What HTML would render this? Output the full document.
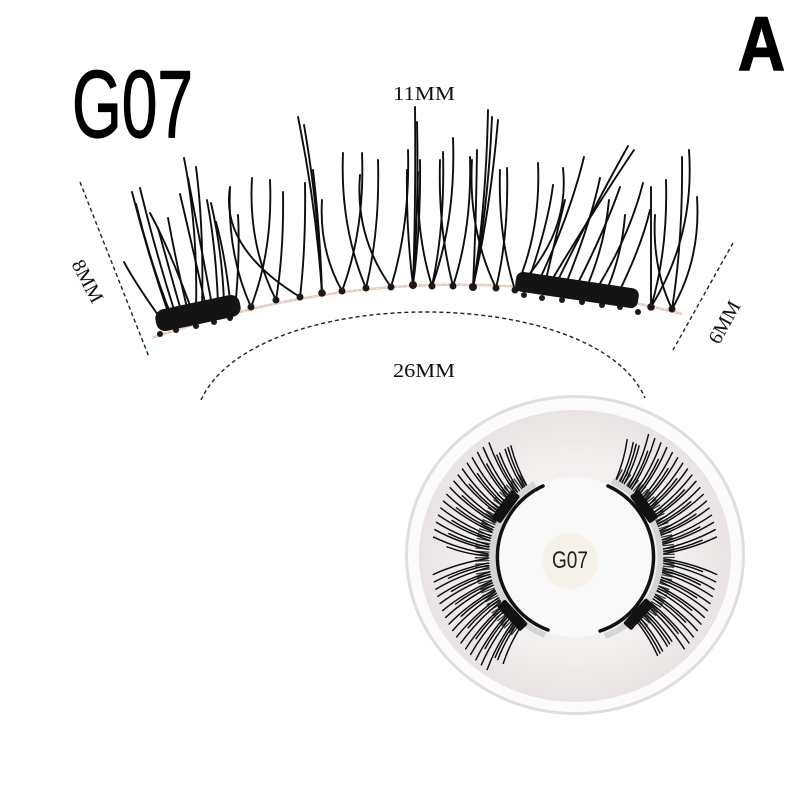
<!DOCTYPE html>
<html>
<head>
<meta charset="utf-8">
<style>
html,body{margin:0;padding:0;background:#fff;}
svg{display:block;}
</style>
</head>
<body>
<svg width="800" height="800" viewBox="0 0 800 800" xmlns="http://www.w3.org/2000/svg">
<defs>
  <radialGradient id="dish" cx="0.5" cy="0.5" r="0.5">
    <stop offset="0" stop-color="#f9f7f7"/>
    <stop offset="0.65" stop-color="#f3efef"/>
    <stop offset="1" stop-color="#e9e3e3"/>
  </radialGradient>
  <path id="la" d="M662,557 Q692,553 717,542"/>
  <path id="lb" d="M662,557 Q692,561 717,572"/>
  <path id="lc" d="M662,557 Q684,555 703,548"/>
  <path id="ld" d="M662,557 Q684,559 703,566"/>
</defs>
<rect width="800" height="800" fill="#fff"/>

<!-- Titles -->
<text x="72" y="137" font-family="Liberation Sans, sans-serif" font-size="96" textLength="121" lengthAdjust="spacingAndGlyphs" fill="#000" stroke="#000" stroke-width="1.2" stroke-linejoin="round">G07</text>
<text x="738" y="70" font-family="Liberation Sans, sans-serif" font-weight="bold" font-size="76" textLength="47" lengthAdjust="spacingAndGlyphs" fill="#000" stroke="#000" stroke-width="1.5">A</text>

<!-- Dimension labels -->
<text x="393" y="100" font-family="Liberation Serif, serif" font-size="20" textLength="62" lengthAdjust="spacingAndGlyphs" fill="#111">11MM</text>
<text x="393" y="377" font-family="Liberation Serif, serif" font-size="20" textLength="62" lengthAdjust="spacingAndGlyphs" fill="#111">26MM</text>
<text transform="translate(88,281) rotate(62)" x="0" y="7" text-anchor="middle" font-family="Liberation Serif, serif" font-size="20" fill="#111">8MM</text>
<text transform="translate(724,322) rotate(-61)" x="0" y="7" text-anchor="middle" font-family="Liberation Serif, serif" font-size="20" fill="#111">6MM</text>

<!-- Dashed dimension lines -->
<g fill="none" stroke="#222" stroke-width="1.4" stroke-dasharray="4 3">
  <line x1="80" y1="182" x2="149" y2="357"/>
  <line x1="733" y1="243" x2="673" y2="350"/>
  <path d="M201,400 C255,283 595,283 645,398"/>
</g>

<!-- Top lash strip -->
<path d="M152,338 Q420,245 682,314" fill="none" stroke="#e6c9bb" stroke-width="2.5"/>
<path d="M152,338 Q420,245 682,314" fill="none" stroke="#fff" stroke-width="0.8" stroke-dasharray="2 3" opacity="0.7"/>

<g fill="none" stroke="#0e0e0e" stroke-width="1.9" stroke-linecap="round">
  <!-- left group -->
  <path d="M163,322 Q135,283 124,262"/>
  <path d="M170,318 Q148,255 132,192"/>
  <path d="M172,318 Q150,262 136,204"/>
  <path d="M176,316 Q155,250 140,188"/>
  <path d="M182,314 Q168,265 158,228"/>
  <path d="M188,312 Q176,262 168,218"/>
  <path d="M196,310 Q198,228 184,158"/>
  <path d="M202,308 Q204,230 196,167"/>
  <path d="M206,307 Q192,245 180,194"/>
  <path d="M212,305 Q200,240 188,178"/>
  <path d="M218,304 Q216,248 207,200"/>
  <path d="M224,302 Q222,250 211,203"/>
  <path d="M230,300 Q225,255 216,222"/>
  <path d="M236,299 Q240,250 238,215"/>
  <path d="M192,311 Q170,250 150,213"/>
  <!-- knot arms -->
  <path d="M251,307 Q227,254 230,188"/>
  <path d="M251,307 Q273,250 270,180"/>
  <path d="M276,300 Q248,245 252,178"/>
  <path d="M276,300 Q284,251 283,192"/>
  <path d="M300,297 Q220,248 230,187"/>
  <path d="M300,297 Q306,246 305,183"/>
  <path d="M322,293 Q316,205 298,117"/>
  <path d="M322,293 Q318,205 304,125"/>
  <path d="M322,293 Q320,230 313,170"/>
  <path d="M342,291 Q319,250 322,200"/>
  <path d="M342,291 Q365,229 362,153"/>
  <path d="M366,288 Q340,227 343,153"/>
  <path d="M366,288 Q380,230 378,160"/>
  <path d="M391,287 Q355,237 360,175"/>
  <path d="M391,287 Q410,225 408,150"/>
  <path d="M413,285 Q416,200 415,107"/>
  <path d="M413,285 Q419,205 417,122"/>
  <path d="M413,285 Q406,230 407,170"/>
  <path d="M413,285 Q421,225 420,160"/>
  <path d="M432,286 Q416,235 418,172"/>
  <path d="M432,286 Q456,219 453,138"/>
  <path d="M432,286 Q445,226 443,152"/>
  <path d="M453,286 Q438,229 440,160"/>
  <path d="M453,286 Q472,228 470,157"/>
  <path d="M473,287 Q486,210 488,110"/>
  <path d="M473,287 Q488,210 492,117"/>
  <path d="M473,287 Q490,212 498,120"/>
  <path d="M473,287 Q476,225 477,150"/>
  <path d="M496,288 Q468,230 472,160"/>
  <path d="M496,288 Q509,234 507,168"/>
  <path d="M515,290 Q498,236 500,170"/>
  <path d="M515,290 Q541,233 538,163"/>
  <path d="M515,290 Q570,235 563,168"/>
  <!-- right magnet group -->
  <path d="M528,282 Q548,225 553,185"/>
  <path d="M538,283 Q570,215 584,157"/>
  <path d="M550,283 Q600,200 634,150"/>
  <path d="M556,284 Q595,205 628,146"/>
  <path d="M565,286 Q590,225 600,178"/>
  <path d="M576,287 Q605,230 620,187"/>
  <path d="M586,289 Q605,245 609,200"/>
  <path d="M596,290 Q630,235 643,183"/>
  <path d="M606,292 Q622,255 625,215"/>
  <path d="M618,294 Q642,245 650,210"/>
  <path d="M545,284 Q555,240 565,200"/>
  <!-- right end -->
  <path d="M651,307 Q651,253 651,187"/>
  <path d="M651,307 Q695,236 689,150"/>
  <path d="M651,307 Q668,250 666,180"/>
  <path d="M672,309 Q683,240 682,157"/>
  <path d="M672,309 Q701,259 697,197"/>
  <path d="M672,309 Q652,267 655,215"/>
</g>

<!-- knots -->
<g fill="#1a1a1a">
  <circle cx="251" cy="307" r="3.5"/><circle cx="276" cy="300" r="3.5"/><circle cx="300" cy="297" r="3.5"/>
  <circle cx="322" cy="293" r="3.8"/><circle cx="342" cy="291" r="3.5"/><circle cx="366" cy="288" r="3.5"/>
  <circle cx="391" cy="287" r="3.5"/><circle cx="413" cy="285" r="4"/><circle cx="432" cy="286" r="3.5"/>
  <circle cx="453" cy="286" r="3.5"/><circle cx="473" cy="287" r="4"/><circle cx="496" cy="288" r="3.5"/>
  <circle cx="515" cy="290" r="3.5"/><circle cx="651" cy="307" r="3.8"/><circle cx="672" cy="309" r="3.5"/>
  <circle cx="160" cy="334" r="3"/><circle cx="176" cy="330" r="3"/><circle cx="196" cy="326" r="3"/>
  <circle cx="214" cy="322" r="3"/><circle cx="230" cy="318" r="3"/>
  <circle cx="524" cy="295" r="3"/><circle cx="542" cy="298" r="3"/><circle cx="562" cy="300" r="3"/>
  <circle cx="582" cy="302" r="3"/><circle cx="602" cy="305" r="3"/><circle cx="620" cy="307" r="3"/>
  <circle cx="638" cy="312" r="3"/>
</g>

<!-- magnets top -->
<rect x="-43" y="-11" width="86" height="22" rx="9" transform="translate(198,313) rotate(-12)" fill="#141414"/>
<rect x="-62" y="-10" width="124" height="20" rx="7" transform="translate(577,290) rotate(8.5)" fill="#141414"/>

<!-- Dish -->
<ellipse cx="575" cy="555" rx="170" ry="160" fill="#e4dcdc"/>
<ellipse cx="575" cy="555" rx="167" ry="157" fill="#fcfbfb"/>
<ellipse cx="575" cy="556" rx="156" ry="146" fill="url(#dish)"/>
<circle cx="575" cy="557" r="80" fill="#faf9f9"/>

<!-- dish lash base darkening -->
<g fill="none" stroke="#1a1a1a" stroke-width="16" stroke-dasharray="1.3 1.7" opacity="0.85">
  <path d="M618,476 A92,92 0 0 1 639,623"/>
  <path d="M524,481 A92,92 0 0 0 518,630"/>
</g>

<!-- dish lashes -->
<g fill="none" stroke="#0c0c0c" stroke-width="1.45" stroke-linecap="round">
  <!-- right cluster -->
  <use href="#lc" transform="rotate(-62 575 557)"/><use href="#lc" transform="rotate(-59 575 557)"/>
  <use href="#lc" transform="rotate(-56 575 557)"/><use href="#la" transform="rotate(-53 575 557)"/>
  <use href="#la" transform="rotate(-50 575 557)"/><use href="#la" transform="rotate(-47 575 557)"/>
  <use href="#la" transform="rotate(-44 575 557)"/><use href="#la" transform="rotate(-41 575 557)"/>
  <use href="#la" transform="rotate(-38 575 557)"/><use href="#la" transform="rotate(-35 575 557)"/>
  <use href="#la" transform="rotate(-32 575 557)"/><use href="#la" transform="rotate(-29 575 557)"/>
  <use href="#la" transform="rotate(-26 575 557)"/><use href="#la" transform="rotate(-23 575 557)"/>
  <use href="#la" transform="rotate(-20 575 557)"/><use href="#la" transform="rotate(-17 575 557)"/>
  <use href="#la" transform="rotate(-14 575 557)"/><use href="#la" transform="rotate(-11 575 557)"/>
  <use href="#la" transform="rotate(-8 575 557)"/><use href="#la" transform="rotate(-5 575 557)"/>
  <use href="#la" transform="rotate(-2 575 557)"/><use href="#lb" transform="rotate(1 575 557)"/>
  <use href="#lb" transform="rotate(4 575 557)"/><use href="#lb" transform="rotate(7 575 557)"/>
  <use href="#lb" transform="rotate(10 575 557)"/><use href="#lb" transform="rotate(13 575 557)"/>
  <use href="#lb" transform="rotate(16 575 557)"/><use href="#lb" transform="rotate(19 575 557)"/>
  <use href="#lb" transform="rotate(22 575 557)"/><use href="#lb" transform="rotate(25 575 557)"/>
  <use href="#lb" transform="rotate(28 575 557)"/><use href="#lb" transform="rotate(31 575 557)"/>
  <use href="#lb" transform="rotate(34 575 557)"/><use href="#ld" transform="rotate(37 575 557)"/>
  <use href="#ld" transform="rotate(40 575 557)"/><use href="#ld" transform="rotate(43 575 557)"/>
  <use href="#ld" transform="rotate(46 575 557)"/>
  <use href="#lc" transform="rotate(-57.5 575 557)"/><use href="#lc" transform="rotate(-51.5 575 557)"/>
  <use href="#lc" transform="rotate(-45.5 575 557)"/><use href="#lc" transform="rotate(-39.5 575 557)"/>
  <use href="#lc" transform="rotate(-33.5 575 557)"/><use href="#lc" transform="rotate(-27.5 575 557)"/>
  <use href="#lc" transform="rotate(-21.5 575 557)"/><use href="#lc" transform="rotate(-15.5 575 557)"/>
  <use href="#lc" transform="rotate(-9.5 575 557)"/><use href="#lc" transform="rotate(-3.5 575 557)"/>
  <use href="#ld" transform="rotate(2.5 575 557)"/><use href="#ld" transform="rotate(8.5 575 557)"/>
  <use href="#ld" transform="rotate(14.5 575 557)"/><use href="#ld" transform="rotate(20.5 575 557)"/>
  <use href="#ld" transform="rotate(26.5 575 557)"/><use href="#ld" transform="rotate(32.5 575 557)"/>
  <use href="#ld" transform="rotate(38.5 575 557)"/><use href="#ld" transform="rotate(44.5 575 557)"/>
  <!-- left cluster -->
  <use href="#lc" transform="rotate(128 575 557)"/><use href="#lc" transform="rotate(131 575 557)"/>
  <use href="#la" transform="rotate(134 575 557)"/><use href="#la" transform="rotate(137 575 557)"/>
  <use href="#la" transform="rotate(140 575 557)"/><use href="#la" transform="rotate(143 575 557)"/>
  <use href="#la" transform="rotate(146 575 557)"/><use href="#la" transform="rotate(149 575 557)"/>
  <use href="#la" transform="rotate(152 575 557)"/><use href="#la" transform="rotate(155 575 557)"/>
  <use href="#la" transform="rotate(158 575 557)"/><use href="#la" transform="rotate(161 575 557)"/>
  <use href="#la" transform="rotate(164 575 557)"/><use href="#la" transform="rotate(167 575 557)"/>
  <use href="#la" transform="rotate(170 575 557)"/><use href="#la" transform="rotate(173 575 557)"/>
  <use href="#la" transform="rotate(176 575 557)"/><use href="#la" transform="rotate(179 575 557)"/>
  <use href="#lb" transform="rotate(182 575 557)"/><use href="#lb" transform="rotate(185 575 557)"/>
  <use href="#lb" transform="rotate(188 575 557)"/><use href="#lb" transform="rotate(191 575 557)"/>
  <use href="#lb" transform="rotate(194 575 557)"/><use href="#lb" transform="rotate(197 575 557)"/>
  <use href="#lb" transform="rotate(200 575 557)"/><use href="#lb" transform="rotate(203 575 557)"/>
  <use href="#lb" transform="rotate(206 575 557)"/><use href="#lb" transform="rotate(209 575 557)"/>
  <use href="#lb" transform="rotate(212 575 557)"/><use href="#lb" transform="rotate(215 575 557)"/>
  <use href="#lb" transform="rotate(218 575 557)"/><use href="#lb" transform="rotate(221 575 557)"/>
  <use href="#lb" transform="rotate(224 575 557)"/><use href="#lb" transform="rotate(227 575 557)"/>
  <use href="#ld" transform="rotate(230 575 557)"/><use href="#ld" transform="rotate(233 575 557)"/>
  <use href="#ld" transform="rotate(236 575 557)"/>
  <use href="#lc" transform="rotate(132.5 575 557)"/><use href="#lc" transform="rotate(138.5 575 557)"/>
  <use href="#lc" transform="rotate(144.5 575 557)"/><use href="#lc" transform="rotate(150.5 575 557)"/>
  <use href="#lc" transform="rotate(156.5 575 557)"/><use href="#lc" transform="rotate(162.5 575 557)"/>
  <use href="#lc" transform="rotate(168.5 575 557)"/><use href="#lc" transform="rotate(174.5 575 557)"/>
  <use href="#ld" transform="rotate(180.5 575 557)"/><use href="#ld" transform="rotate(186.5 575 557)"/>
  <use href="#ld" transform="rotate(192.5 575 557)"/><use href="#ld" transform="rotate(198.5 575 557)"/>
  <use href="#ld" transform="rotate(204.5 575 557)"/><use href="#ld" transform="rotate(210.5 575 557)"/>
  <use href="#ld" transform="rotate(216.5 575 557)"/><use href="#ld" transform="rotate(222.5 575 557)"/>
  <use href="#ld" transform="rotate(228.5 575 557)"/><use href="#ld" transform="rotate(234.5 575 557)"/>
</g>

<!-- lash band (silver) -->
<g fill="none" stroke="#d4d4d4" stroke-width="6">
  <path d="M535,484 A84,84 0 0 0 545,635"/>
  <path d="M612,481 A84,84 0 0 1 605,636"/>
</g>
<!-- black magnetic arcs -->
<g fill="none" stroke="#111" stroke-width="3.5" stroke-linecap="round">
  <path d="M543,486 A78,78 0 0 0 548,630"/>
  <path d="M608,486 A78,78 0 0 1 600,631"/>
</g>
<!-- dish magnets -->
<g fill="#121212">
  <rect x="655" y="540" width="11" height="34" rx="2" transform="rotate(216 575 557)"/>
  <rect x="655" y="540" width="11" height="34" rx="2" transform="rotate(137 575 557)"/>
  <rect x="655" y="540" width="11" height="34" rx="2" transform="rotate(-36 575 557)"/>
  <rect x="655" y="540" width="11" height="34" rx="2" transform="rotate(42 575 557)"/>
</g>

<!-- label -->
<circle cx="570" cy="561" r="28" fill="#f6f2e9"/>
<text x="552" y="568" font-family="Liberation Sans, sans-serif" font-size="24" textLength="36" lengthAdjust="spacingAndGlyphs" fill="#222">G07</text>
</svg>
</body>
</html>
